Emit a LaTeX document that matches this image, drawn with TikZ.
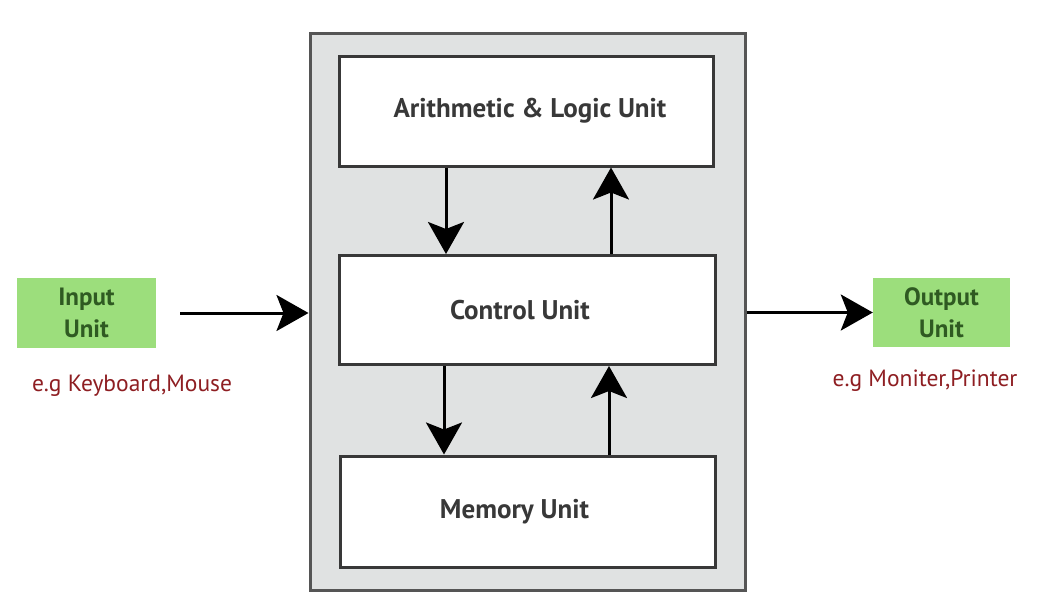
\documentclass[tikz,border=0pt]{standalone}
\usepackage{fontspec}
\setmainfont{PT Sans}
\usetikzlibrary{arrows.meta,calc}
\definecolor{panelgray}{HTML}{E0E2E2}
\definecolor{framegray}{HTML}{555555}
\definecolor{unitgreen}{HTML}{9CDE7C}
\definecolor{greentext}{HTML}{2F5A22}
\definecolor{redtext}{HTML}{8E1E22}
\definecolor{textgray}{HTML}{383838}
\tikzset{
  panel/.style={draw=framegray, line width=3pt, fill=panelgray, rectangle, inner sep=0pt},
  unitbox/.style={draw=textgray, line width=3pt, fill=white, rectangle, inner sep=0pt,
    font=\bfseries\fontsize{27}{30}\selectfont, text=textgray},
  iobox/.style={fill=unitgreen, rectangle, inner sep=0pt, align=center,
    font=\bfseries\fontsize{25}{32}\selectfont, text=greentext},
  note/.style={font=\fontsize{23.5}{26}\selectfont, text=redtext, inner sep=0pt},
  arr/.style={line width=3pt, -{Stealth[length=32pt,width=36pt,inset=7pt]}}
}
\begin{document}
\begin{tikzpicture}[x=1pt,y=-1pt]
\useasboundingbox (0,0) rectangle (1037,598);
\node[panel, minimum width=435pt, minimum height=557pt] (outer) at (527.5,311.5) {};
\node[unitbox, minimum width=374pt, minimum height=110pt] (alu) at (526,111) {\hspace*{8pt}Arithmetic \& Logic Unit};
\node[unitbox, minimum width=376pt, minimum height=109pt] (cu) at (527,310) {Control Unit\hspace*{14pt}};
\node[unitbox, minimum width=375pt, minimum height=111pt] (mem) at (527.5,511.5) {Memory Unit\hspace*{26pt}};
\node[iobox, minimum width=139pt, minimum height=70pt] (inp) at (86.5,313) {Input\\Unit};
\node[iobox, minimum width=137pt, minimum height=69pt] (outp) at (941.5,312.5) {Output\\Unit};
\node[note] (kb) at (132,386) {e.g Keyboard,Mouse};
\node[note] (mon) at (925,381) {e.g Moniter,Printer};
\coordinate (xl) at (446,0);
\coordinate (xr) at (611,0);
\coordinate (xl2) at (444,0);
\coordinate (xr2) at (609,0);
\draw[arr] (alu.south -| xl) -- (cu.north -| xl);
\draw[arr] (cu.north -| xr) -- (alu.south -| xr);
\draw[arr] (cu.south -| xl2) -- (mem.north -| xl2);
\draw[arr] (mem.north -| xr2) -- (cu.south -| xr2);
\draw[arr, shorten <=24pt] (inp.east) -- (outer.west |- inp.east);
\draw[arr] (outer.east |- outp.west) -- (outp.west);
\end{tikzpicture}
\end{document}
